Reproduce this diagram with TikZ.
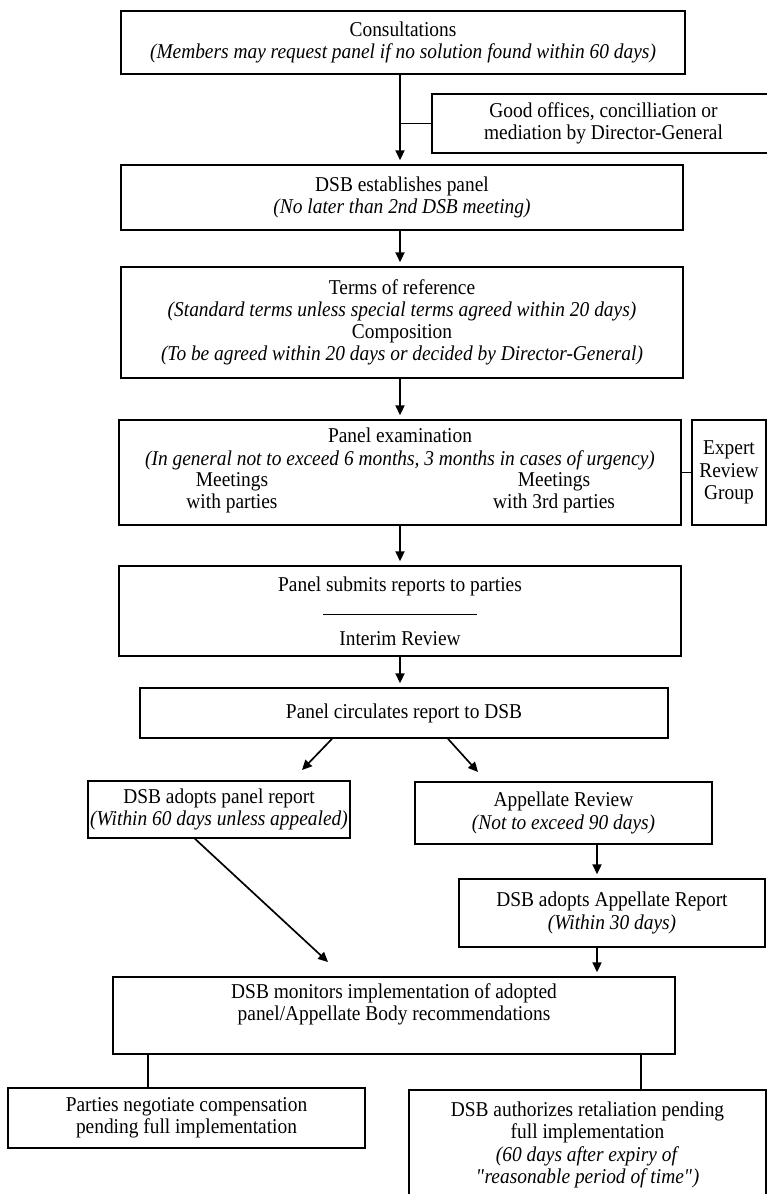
\documentclass[tikz,border=0pt]{standalone}
\usepackage{fontspec}
\setmainfont{Liberation Serif}[FakeStretch=0.92]
\usetikzlibrary{arrows.meta}
\newcommand{\unitpx}{0.025cm}
\begin{document}
\begin{tikzpicture}[x=\unitpx, y=-\unitpx,
		box/.style={draw, line width=1.2pt, align=center, inner sep=0pt,
			font=\fontsize{15}{15.8}\selectfont},
		txt/.style={align=center, inner sep=0pt, font=\fontsize{15}{15.8}\selectfont},
		boxsize/.style 2 args={minimum width=#1*\unitpx, minimum height=#2*\unitpx},
		arr/.style={line width=1.2pt, -{Triangle[length=7pt, width=6.5pt]}, shorten >=4*\unitpx},
		link/.style={line width=1.2pt}]
	\useasboundingbox (0, 0) rectangle (767, 1194);
	\node[box, boxsize={564}{63}] (cons) at (403, 42.5) {Consultations\\\textit{(Members may request panel if no solution found within 60 days)}};
	\node[box, boxsize={343}{59}] (goodoff) at (603.5, 123.5) {Good offices, concilliation or\\mediation by Director-General};
	\node[box, boxsize={562}{65}] (estab) at (402, 197.5) {DSB establishes panel\\\textit{(No later than 2nd DSB meeting)}};
	\node[box, boxsize={562}{111}] (terms) at (402, 322.5) {Terms of reference\\\textit{(Standard terms unless special terms agreed within 20 days)}\\Composition\\\textit{(To be agreed within 20 days or decided by Director-General)}};
	\node[box, boxsize={562}{105}] (exam) at (400, 472.5) {};
	\node[txt] (examtitle) at (400, 449) {Panel examination\\\textit{(In general not to exceed 6 months, 3 months in cases of urgency)}};
	\node[txt] (meetparties) at (232, 493) {Meetings\\with parties};
	\node[txt] (meetthird) at (554, 493) {Meetings\\with 3rd parties};
	\node[box, boxsize={74}{105}] (expert) at (729, 472.5) {Expert\\Review\\Group};
	\node[box, boxsize={562}{90}] (submits) at (400, 611) {Panel submits reports to parties\\[1pt]\rule{3.85cm}{0.8pt}\\[6pt]Interim Review};
	\node[box, boxsize={528}{50}] (circ) at (404, 713) {Panel circulates report to DSB};
	\node[box, boxsize={262}{57}] (adopt) at (219, 809.5) {DSB adopts panel report\\\textit{(Within 60 days unless appealed)}};
	\node[box, boxsize={297}{62}] (appeal) at (563.5, 813) {Appellate Review\\\textit{(Not to exceed 90 days)}};
	\node[box, boxsize={306}{68}] (appreport) at (612, 913) {DSB adopts Appellate Report\\\textit{(Within 30 days)}};
	\node[box, boxsize={562}{77}] (mon) at (394, 1015.5) {};
	\node[txt] (montext) at (394, 1004) {DSB monitors implementation of adopted\\panel/Appellate Body recommendations};
	\node[box, boxsize={357}{60}] (parties) at (186.5, 1118) {Parties negotiate compensation\\pending full implementation};
	\node[box, boxsize={357}{110}] (auth) at (587.5, 1145) {DSB authorizes retaliation pending\\full implementation\\\textit{(60 days after expiry of}\\\textit{\textquotedbl reasonable period of time\textquotedbl)}};
	\coordinate (leftend) at (302, 770);
	\coordinate (rightend) at (478, 772);
	\coordinate (diagend) at (328, 962);
	\coordinate (mainx) at (400, 0);
	\coordinate (appx) at (597, 0);
	\coordinate (partx) at (148, 0);
	\coordinate (authx) at (641, 0);
	\draw[arr] (cons.south -| mainx) -- (estab.north -| mainx);
	\draw[link] (goodoff.west) -- (goodoff.west -| mainx);
	\draw[arr] (estab.south -| mainx) -- (terms.north -| mainx);
	\draw[arr] (terms.south -| mainx) -- (exam.north -| mainx);
	\draw[link] (exam.east |- expert.west) -- (expert.west);
	\draw[arr] (exam.south -| mainx) -- (submits.north -| mainx);
	\draw[arr] (submits.south -| mainx) -- (circ.north -| mainx);
	\draw[arr, shorten >=0pt] ([xshift=-72*\unitpx]circ.south) -- (leftend);
	\draw[arr, shorten >=0pt] ([xshift=44*\unitpx]circ.south) -- (rightend);
	\draw[arr] (appeal.south -| appx) -- (appreport.north -| appx);
	\draw[arr, shorten >=0pt] ([xshift=-24*\unitpx]adopt.south) -- (diagend);
	\draw[arr] (appreport.south -| appx) -- (mon.north -| appx);
	\draw[link] (mon.south -| partx) -- (parties.north -| partx);
	\draw[link] (mon.south -| authx) -- (auth.north -| authx);
\end{tikzpicture}
\end{document}
